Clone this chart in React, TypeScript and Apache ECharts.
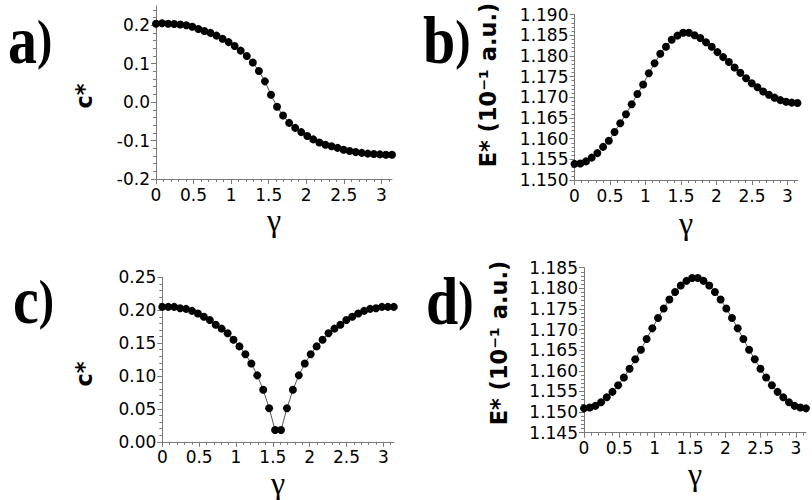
import React, { useEffect, useRef } from "react";
import * as echarts from "echarts";

// gamma sample positions (k * pi / 39)
const GAMMA = [
  0, 0.0806, 0.1611, 0.2417, 0.3222, 0.4028, 0.4833, 0.5639, 0.6444, 0.725,
  0.8055, 0.8861, 0.9666, 1.0472, 1.1278, 1.2083, 1.2889, 1.3694, 1.45, 1.5305,
  1.6111, 1.6916, 1.7722, 1.8527, 1.9333, 2.0139, 2.0944, 2.175, 2.2555, 2.3361,
  2.4166, 2.4972, 2.5777, 2.6583, 2.7389, 2.8194, 2.9, 2.9805, 3.0611, 3.1416,
];

// panel a) c*
const C_A = [
  0.204, 0.205, 0.204, 0.203, 0.202, 0.2, 0.196, 0.19, 0.185, 0.18,
  0.173, 0.165, 0.156, 0.146, 0.134, 0.12, 0.103, 0.081, 0.054, 0.019,
  -0.012, -0.035, -0.054, -0.067, -0.078, -0.088, -0.097, -0.105, -0.111, -0.115,
  -0.119, -0.124, -0.127, -0.13, -0.132, -0.134, -0.135, -0.136, -0.137, -0.137,
];

// panel b) E*
const E_B = [
  1.1539, 1.154, 1.1545, 1.1554, 1.1565, 1.158, 1.1595, 1.1616, 1.1637, 1.1659,
  1.1683, 1.1708, 1.1731, 1.1758, 1.1782, 1.1805, 1.1822, 1.1839, 1.1849, 1.1856,
  1.1856, 1.185, 1.1843, 1.1833, 1.1822, 1.1809, 1.1797, 1.1785, 1.1772, 1.1759,
  1.1746, 1.1734, 1.1724, 1.1714, 1.1706, 1.1699, 1.1693, 1.1689, 1.1687, 1.1686,
];

// panel c) c*
const C_C = [
  0.205, 0.205, 0.205, 0.203, 0.202, 0.199, 0.195, 0.19, 0.185, 0.178,
  0.172, 0.165, 0.155, 0.145, 0.133, 0.119, 0.101, 0.079, 0.051, 0.018,
  0.018, 0.051, 0.079, 0.101, 0.119, 0.133, 0.145, 0.155, 0.165, 0.172,
  0.178, 0.185, 0.19, 0.195, 0.199, 0.202, 0.203, 0.205, 0.205, 0.205,
];

// panel d) E*
const E_D = [
  1.1509, 1.1511, 1.1515, 1.1524, 1.1536, 1.1549, 1.1565, 1.1584, 1.1605, 1.1628,
  1.1651, 1.1677, 1.1703, 1.1728, 1.1751, 1.1773, 1.1791, 1.1807, 1.1818, 1.1825,
  1.1825, 1.1818, 1.1807, 1.1791, 1.1773, 1.1751, 1.1728, 1.1703, 1.1677, 1.1651,
  1.1628, 1.1605, 1.1584, 1.1565, 1.1549, 1.1536, 1.1524, 1.1515, 1.1511, 1.1509,
];

// tick labels
const X_MAJOR = [0, 0.5, 1, 1.5, 2, 2.5, 3];
const Y_MAJOR_A = [-0.2, -0.1, 0, 0.1, 0.2];
const Y_MAJOR_B = [1.15, 1.155, 1.16, 1.165, 1.17, 1.175, 1.18, 1.185, 1.19];
const Y_MAJOR_C = [0, 0.05, 0.1, 0.15, 0.2, 0.25];
const Y_MAJOR_D = [1.145, 1.15, 1.155, 1.16, 1.165, 1.17, 1.175, 1.18, 1.185];

const PANEL_LETTERS = ["a", "b", "c", "d"];
const Y_TITLE_C = "c*";
const Y_TITLE_E = "E* (10\u207B\u00B9 a.u.)";
const X_TITLE = "\u03B3";

function minorTicks(lo: number, hi: number, step: number, majorStep: number) {
  const out: number[] = [];
  const n = Math.floor((hi - lo) / step + 1e-9);
  for (let i = 1; i <= n; i++) {
    const v = lo + i * step;
    const r = v / majorStep;
    if (Math.abs(r - Math.round(r)) > 1e-6) out.push(+v.toFixed(6));
  }
  return out;
}

const AXIS_COLOR = "#7a7a7a";
const LABEL_FONT = "DejaVu Sans";
const LETTER_FONT_L = 'bold 58px "Liberation Serif", serif';
const LETTER_FONT_P = 'bold 46px "Liberation Serif", serif';

type Panel = {
  grid: { left: number; top: number; width: number; height: number };
  yMin: number;
  yMax: number;
  yMajor: number[];
  yMinorStep: number;
  yMajorStep: number;
  dec: number;
  values: number[];
  yName: string;
  yTitle: { x: number; y: number };
  xNameGap: number;
  letter: { x: number; y: number };
};

const PANELS: Panel[] = [
  {
    grid: { left: 156, top: 6, width: 236, height: 173 },
    yMin: -0.2, yMax: 0.25, yMajor: Y_MAJOR_A, yMinorStep: 0.02, yMajorStep: 0.1, dec: 1,
    values: C_A, yName: Y_TITLE_C, yTitle: { x: 84, y: 96 }, xNameGap: 25,
    letter: { x: 8, y: 40 },
  },
  {
    grid: { left: 574.5, top: 14.5, width: 223, height: 165.5 },
    yMin: 1.15, yMax: 1.19, yMajor: Y_MAJOR_B, yMinorStep: 0.001, yMajorStep: 0.005, dec: 3,
    values: E_B, yName: Y_TITLE_E, yTitle: { x: 488, y: 85 }, xNameGap: 27,
    letter: { x: 423, y: 40 },
  },
  {
    grid: { left: 162.3, top: 277.3, width: 231.5, height: 164.5 },
    yMin: 0, yMax: 0.25, yMajor: Y_MAJOR_C, yMinorStep: 0.01, yMajorStep: 0.05, dec: 2,
    values: C_C, yName: Y_TITLE_C, yTitle: { x: 84, y: 374 }, xNameGap: 14,
    letter: { x: 13, y: 300 },
  },
  {
    grid: { left: 584, top: 267.7, width: 222, height: 165 },
    yMin: 1.145, yMax: 1.185, yMajor: Y_MAJOR_D, yMinorStep: 0.001, yMajorStep: 0.005, dec: 3,
    values: E_D, yName: Y_TITLE_E, yTitle: { x: 498.5, y: 343 }, xNameGap: 18,
    letter: { x: 426, y: 301 },
  },
];

const X_MAX = GAMMA[GAMMA.length - 1];

function buildOption() {
  const grids: any[] = [];
  const xAxes: any[] = [];
  const yAxes: any[] = [];
  const series: any[] = [];
  const graphics: any[] = [];
  const xMinor = minorTicks(0, X_MAX, 0.1, 0.5);

  PANELS.forEach((p, i) => {
    grids[i] = { ...p.grid, containLabel: false };
    grids[i + 4] = { ...p.grid, containLabel: false };
    xAxes[i] = {
      gridIndex: i,
      type: "value",
      min: 0,
      max: X_MAX,
      axisLine: { show: true, onZero: false, lineStyle: { color: AXIS_COLOR, width: 1 } },
      axisTick: { show: true, length: 5, customValues: X_MAJOR, lineStyle: { color: AXIS_COLOR } },
      axisLabel: {
        customValues: X_MAJOR,
        margin: 7,
        fontSize: 17,
        fontFamily: LABEL_FONT,
        color: "#000",
        formatter: (v: number) => String(v),
      },
      splitLine: { show: false },
      name: X_TITLE,
      nameLocation: "middle",
      nameGap: p.xNameGap,
      nameTextStyle: { fontFamily: "Liberation Serif", fontSize: 32, color: "#000" },
    };
    xAxes[i + 4] = {
      gridIndex: i + 4,
      type: "value",
      min: 0,
      max: X_MAX,
      axisLine: { show: false, onZero: false },
      axisTick: { show: true, length: 3, customValues: xMinor, lineStyle: { color: AXIS_COLOR } },
      axisLabel: { show: false },
      splitLine: { show: false },
    };
    yAxes[i] = {
      gridIndex: i,
      type: "value",
      min: p.yMin,
      max: p.yMax,
      axisLine: { show: true, onZero: false, lineStyle: { color: AXIS_COLOR, width: 1 } },
      axisTick: { show: true, length: 5, customValues: p.yMajor, lineStyle: { color: AXIS_COLOR } },
      axisLabel: {
        customValues: p.yMajor,
        margin: 6,
        fontSize: 17,
        fontFamily: LABEL_FONT,
        color: "#000",
        formatter: (v: number) => v.toFixed(p.dec),
      },
      splitLine: { show: false },
    };
    yAxes[i + 4] = {
      gridIndex: i + 4,
      type: "value",
      min: p.yMin,
      max: p.yMax,
      axisLine: { show: false, onZero: false },
      axisTick: {
        show: true,
        length: 3,
        customValues: minorTicks(p.yMin, p.yMax, p.yMinorStep, p.yMajorStep),
        lineStyle: { color: AXIS_COLOR },
      },
      axisLabel: { show: false },
      splitLine: { show: false },
    };
    series.push({
      type: "line",
      xAxisIndex: i,
      yAxisIndex: i,
      data: GAMMA.map((g, k) => [g, p.values[k]]),
      symbol: "circle",
      symbolSize: 8,
      showSymbol: true,
      clip: false,
      itemStyle: { color: "#000" },
      lineStyle: { color: "#555", width: 1 },
      z: 3,
    });
    // panel letter
    graphics.push({
      type: "text",
      x: p.letter.x,
      y: p.letter.y,
      scaleY: 1.18,
      style: {
        text: `{l|${PANEL_LETTERS[i]}}{p|)}`,
        font: LETTER_FONT_L,
        align: "left",
        verticalAlign: "middle",
        fill: "#000",
        rich: {
          l: { font: LETTER_FONT_L, lineHeight: 44, fill: "#000" },
          p: { font: LETTER_FONT_P, lineHeight: 44, fill: "#000" },
        },
      },
    });
    // y-axis title (rotated)
    graphics.push({
      type: "text",
      x: p.yTitle.x,
      y: p.yTitle.y,
      rotation: Math.PI / 2,
      style: {
        text: p.yName,
        fontFamily: LABEL_FONT,
        fontWeight: "bold",
        fontSize: 22.5,
        align: "center",
        verticalAlign: "middle",
        fill: "#000",
      },
    });
  });

  return {
    animation: false,
    backgroundColor: "#fff",
    grid: grids,
    xAxis: xAxes,
    yAxis: yAxes,
    series,
    graphic: graphics,
  };
}

export default function App() {
  const ref = useRef<HTMLDivElement>(null);
  useEffect(() => {
    if (!ref.current) return;
    const chart = echarts.init(ref.current, undefined, { renderer: "svg" });
    chart.setOption(buildOption() as any);
    return () => chart.dispose();
  }, []);
  return (
    <div
      ref={ref}
      style={{ position: "absolute", left: 0, top: 0, width: 812, height: 500, background: "#fff" }}
    />
  );
}
